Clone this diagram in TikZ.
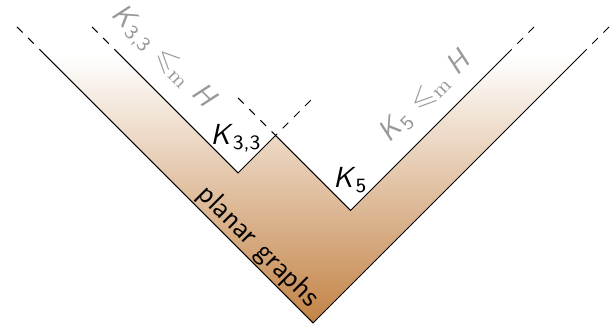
\documentclass[tikz,border=0pt]{standalone}
\usepackage{amssymb}
\usepackage{xcolor}
\definecolor{planarbrown}{RGB}{195,131,70}
\newcommand{\Kg}[1]{\textit{K}\textsubscript{#1}}
\newcommand{\minorof}{$\leqslant_{\mathrm{m}}$}

\begin{document}
\begin{tikzpicture}[x=0.5cm, y=0.5cm, every node/.style={font=\sffamily\fontsize{11}{13}\selectfont}, minorlabel/.style={text=black!40}]
  \useasboundingbox (-8.347,-0.053) rectangle (8,8.613);
  \coordinate (bottom) at (0,0);
  \coordinate (outerL) at (-7.15,7.15);
  \coordinate (outerLend) at (-8,8);
  \coordinate (innerL) at (-5.15,7.15);
  \coordinate (innerLend) at (-6,8);
  \coordinate (notch) at (-2,4);
  \coordinate (kcorner) at (-1,5);
  \coordinate (kcornerL) at (-2,6);
  \coordinate (kcornerR) at (0,6);
  \coordinate (kfive) at (1,3);
  \coordinate (innerR) at (5.15,7.15);
  \coordinate (innerRend) at (6,8);
  \coordinate (outerR) at (7.15,7.15);
  \coordinate (outerRend) at (8,8);
  \coordinate (planarmid) at (-1.75,1.75);
  % planar region
  \shade[top color=white, bottom color=planarbrown] (bottom) -- (outerL) -- (innerL) -- (notch) -- (kcorner) -- (kfive) -- (innerR) -- (outerR) -- cycle;
  \draw (outerL) -- (bottom) -- (outerR);
  \draw (innerL) -- (notch) -- (kcorner) -- (kfive) -- (innerR);
  \draw[dashed] (outerL) -- (outerLend);
  \draw[dashed] (innerL) -- (innerLend);
  \draw[dashed] (innerR) -- (innerRend);
  \draw[dashed] (outerR) -- (outerRend);
  \draw[dashed] (kcornerL) -- (kcorner) -- (kcornerR);
  % labels
  \node[minorlabel, rotate=-45] (kttminor) at (-4,7.07) {\Kg{3,3} \minorof{} \textit{H}};
  \node[minorlabel, rotate=45] (kfiveminor) at (3,6.03) {\Kg{5} \minorof{} \textit{H}};
  \node (ktt) at (-2.05,4.93) {\Kg{3,3}};
  \node (kfivenode) at (1,3.81) {\Kg{5}};
  \node[rotate=-45, anchor=south, inner sep=0.5pt] (planar) at (planarmid) {planar graphs};
\end{tikzpicture}
\end{document}
